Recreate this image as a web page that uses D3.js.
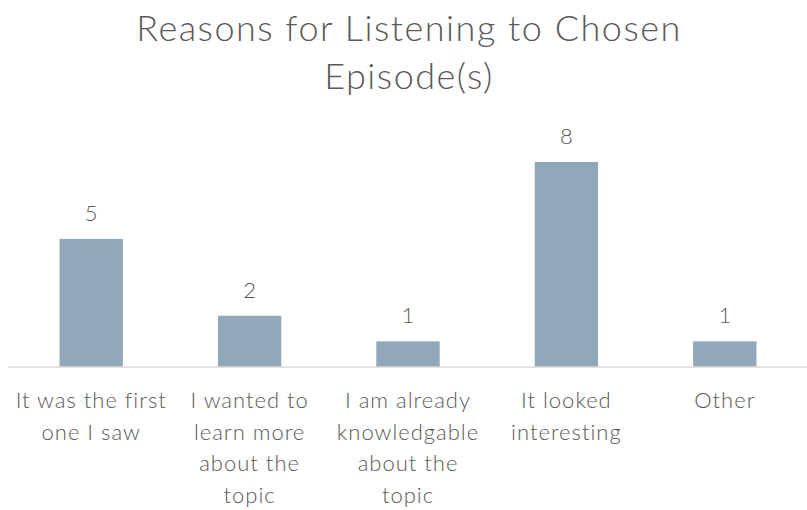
<!DOCTYPE html>
<html>
<head>
<meta charset="utf-8">
<script src="https://cdn.jsdelivr.net/npm/d3@7"></script>
<style>
  html, body { margin: 0; padding: 0; background: #ffffff; }
  svg text { font-family: Lato, "Open Sans", sans-serif; font-weight: 300; fill: #595959; }
</style>
</head>
<body>
<svg id="chart" width="807" height="510"></svg>
<script>
// Survey responses: why listeners picked the episode(s)
const categories = [
  ["It was the first", "one I saw"],
  ["I wanted to", "learn more", "about the", "topic"],
  ["I am already", "knowledgable", "about the", "topic"],
  ["It looked", "interesting"],
  ["Other"]
];
const counts = [5, 2, 1, 8, 1];
const titleLines = ["Reasons for Listening to Chosen", "Episode(s)"];

const svg = d3.select("#chart");
const W = 807;
const margin = { left: 12, right: 3, baseline: 367 };

const x = d3.scaleBand()
  .domain(d3.range(counts.length))
  .range([margin.left, W - margin.right])
  .paddingInner(0.6)
  .paddingOuter(0.3);

const y = d3.scaleLinear()
  .domain([0, 8])
  .range([margin.baseline, 162]);

// Title
svg.append("text")
  .attr("text-anchor", "middle")
  .style("font-size", "36px")
  .style("letter-spacing", "1.5px")
  .selectAll("tspan")
  .data(titleLines)
  .join("tspan")
  .attr("x", 409)
  .attr("y", (d, i) => 41 + i * 48)
  .text(d => d);

// Bars
svg.append("g")
  .selectAll("rect")
  .data(counts)
  .join("rect")
  .attr("x", (d, i) => x(i))
  .attr("width", x.bandwidth())
  .attr("y", d => y(d))
  .attr("height", d => y(0) - y(d))
  .attr("fill", "#91a8b8");

// Value labels
svg.append("g")
  .selectAll("text")
  .data(counts)
  .join("text")
  .attr("text-anchor", "middle")
  .attr("x", (d, i) => x(i) + x.bandwidth() / 2)
  .attr("y", d => y(d) - 18)
  .style("font-size", "22px")
  .text(d => d);

// Category axis
const axis = d3.axisBottom(x).tickSize(0).tickFormat("");
const gAxis = svg.append("g")
  .attr("transform", `translate(0,${y(0)})`)
  .call(axis);
gAxis.select(".domain").attr("stroke", "#d9d9d9").attr("stroke-width", 1.5)
  .attr("d", `M8,0H${W}`);

gAxis.selectAll(".tick").each(function(d) {
  const t = d3.select(this).append("text")
    .attr("text-anchor", "middle")
    .attr("fill", "#595959")
    .style("font-size", "22px")
    .style("letter-spacing", "1px");
  t.selectAll("tspan")
    .data(categories[d])
    .join("tspan")
    .attr("x", 0)
    .attr("y", (s, i) => 41 + i * 31.5)
    .text(s => s);
});
</script>
</body>
</html>
